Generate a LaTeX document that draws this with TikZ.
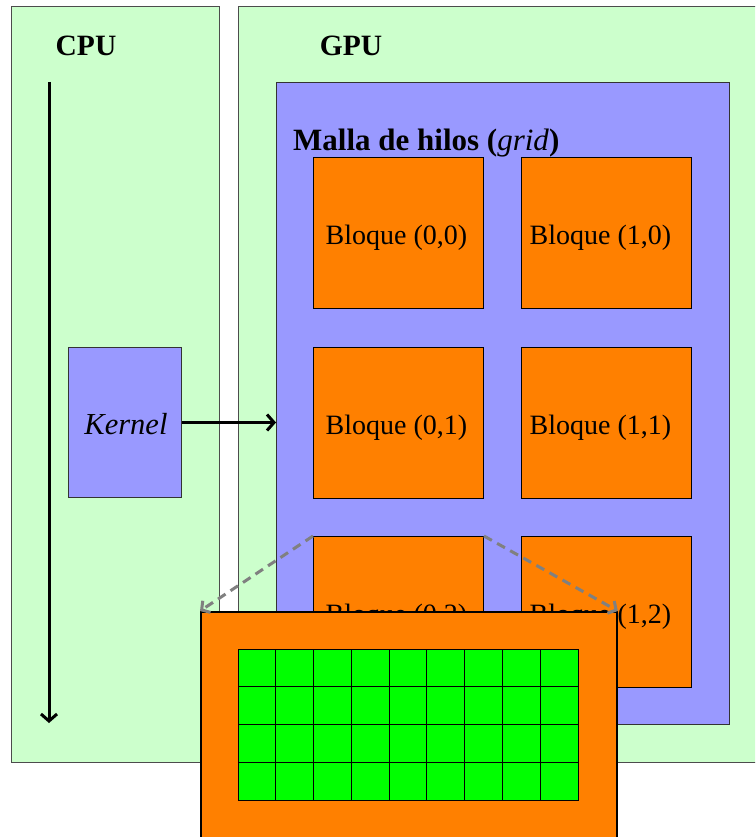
\documentclass[tikz,border=0pt]{standalone}
\usepackage{fontspec}
\setmainfont{Liberation Serif}
\usetikzlibrary{arrows.meta,calc}

\definecolor{hostgreen}{HTML}{CCFFCC}
\definecolor{gridblue}{HTML}{9999FF}
\definecolor{blockorange}{HTML}{FF8000}
\definecolor{threadgreen}{HTML}{00FF00}

\tikzset{
  panel/.style={draw=black!70, fill=hostgreen, line width=1pt, anchor=north west, inner sep=0pt},
  gridbox/.style={draw=black!80, fill=gridblue, line width=1pt, anchor=north west, inner sep=0pt},
  blockbox/.style={draw=black, fill=blockorange, line width=1pt, anchor=north west, inner sep=0pt,
    minimum width=170pt, minimum height=151pt},
  blocklabel/.style={font=\fontsize{28}{32}\selectfont, anchor=base, inner sep=0pt},
  title/.style={font=\fontsize{29.5}{34}\selectfont\bfseries, anchor=base, inner sep=0pt},
  flow/.style={line width=3pt, -{Straight Barb[length=7pt,width=16pt]}},
  zoomline/.style={draw=black!50, line width=3pt, dash pattern=on 9pt off 6pt,
    -{Straight Barb[length=6pt,width=14pt]}},
}

\begin{document}
\begin{tikzpicture}[x=1pt,y=-1pt]
  \useasboundingbox (0,0) rectangle (755,837);
  \clip (0,0) rectangle (755,837);
  \fill[white] (0,0) rectangle (755,837);

  % host and device panels
  \node[panel, minimum width=208pt, minimum height=756pt] (cpu) at (11,6) {};
  \node[panel, minimum width=560pt, minimum height=756pt] (gpu) at (238,6) {};
  \node[title] (cputitle) at (86,56) {CPU};
  \node[title] (gputitle) at (351,56) {GPU};

  % grid of blocks
  \node[gridbox, minimum width=453pt, minimum height=642pt] (grid) at (276,82) {};
  \node[font=\fontsize{31}{34}\selectfont\bfseries, anchor=base west, inner sep=0pt]
    (gridtitle) at (293,151) {Malla de hilos (\textmd{\textit{grid}})};

  \node[blockbox] (b00) at (313,157) {};
  \node[blockbox] (b10) at (521,157) {};
  \node[blockbox] (b01) at (313,347) {};
  \node[blockbox] (b11) at (521,347) {};
  \node[blockbox] (b02) at (313,536) {};
  \node[blockbox] (b12) at (521,536) {};
  \node[blocklabel] at ($(b00.center)+(-2,11)$) {Bloque (0,0)};
  \node[blocklabel] at ($(b10.center)+(-6,11)$) {Bloque (1,0)};
  \node[blocklabel] at ($(b01.center)+(-2,11)$) {Bloque (0,1)};
  \node[blocklabel] at ($(b11.center)+(-6,11)$) {Bloque (1,1)};
  \node[blocklabel] at ($(b02.center)+(-2,11)$) {Bloque (0,2)};
  \node[blocklabel] at ($(b12.center)+(-6,11)$) {Bloque (1,2)};

  % kernel launch
  \node[gridbox, minimum width=113pt, minimum height=150pt] (kernel) at (68,347) {};
  \node[font=\fontsize{30.5}{34}\selectfont\itshape, anchor=base, inner sep=0pt]
    (kernellabel) at ($(kernel.center)+(1,12)$) {Kernel};
  \draw[flow] (kernel.east) -- (grid.west |- kernel.east);

  % host timeline
  \coordinate (tstart) at (49,82);
  \coordinate (tend) at (49,723);
  \draw[flow] (tstart) -- (tend);

  % magnified block with its threads
  \node[draw=black, fill=blockorange, line width=1.8pt, anchor=north west, inner sep=0pt,
    minimum width=416pt, minimum height=260pt] (zoom) at (200,611) {};
  \draw[zoomline] (b02.north west) -- (zoom.north west);
  \draw[zoomline] (b02.north east) -- (zoom.north east);

  \node[draw=black, fill=threadgreen, line width=1pt, anchor=north west, inner sep=0pt,
    minimum width=340pt, minimum height=151pt] (threads) at (238,649) {};
  \foreach \i in {1,...,8}
    \draw[line width=1pt] ($(threads.north west)+(\i*37.78,0)$) -- ($(threads.south west)+(\i*37.78,0)$);
  \foreach \j in {1,2,3}
    \draw[line width=1pt] ($(threads.north west)+(0,\j*37.75)$) -- ($(threads.north east)+(0,\j*37.75)$);
\end{tikzpicture}
\end{document}
